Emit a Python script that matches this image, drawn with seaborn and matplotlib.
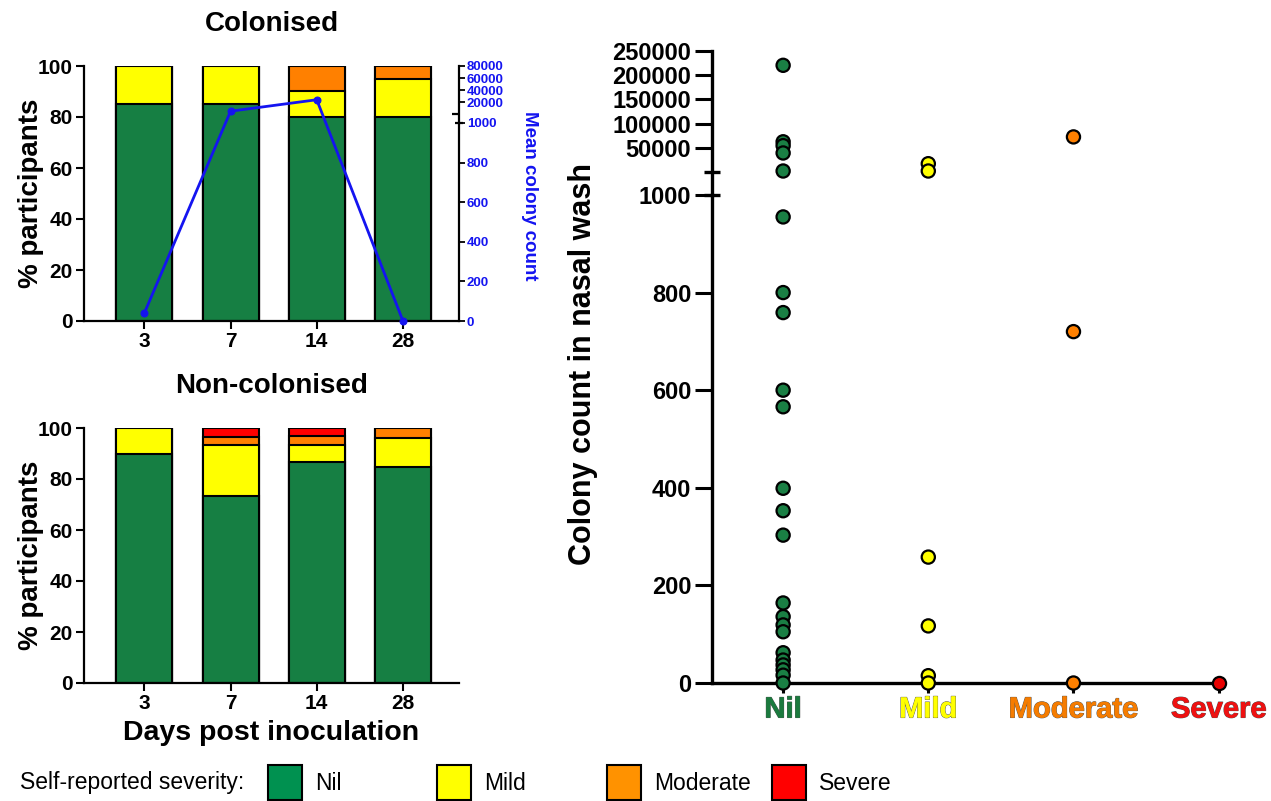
import numpy as np
import pandas as pd
import matplotlib
matplotlib.use("Agg")
import matplotlib.pyplot as plt
from matplotlib.spines import Spine
from matplotlib.patches import Rectangle
import matplotlib.patheffects as pe
import seaborn as sns

# ---------------- data ----------------
days = ["3", "7", "14", "28"]
severity = ["Nil", "Mild", "Moderate", "Severe"]

col_nil = [85, 85, 80, 80]
col_mild = [15, 15, 10, 15]
col_moderate = [0, 0, 10, 5]
col_severe = [0, 0, 0, 0]

non_nil = [90, 73.3, 86.7, 84.6]
non_mild = [10, 20.0, 6.7, 11.5]
non_moderate = [0, 3.3, 3.3, 3.9]
non_severe = [0, 3.4, 3.3, 0]

mean_colony = [40, 5000, 24000, 0]

nil_counts = [220000, 63000, 55000, 40000, 3000, 955, 800, 759, 600, 566, 399,
              353, 303, 164, 136, 119, 105, 62, 47, 37, 27, 16, 0]
mild_counts = [18000, 3000, 258, 117, 15, 0]
moderate_counts = [73000, 720, 0]
severe_counts = [0]

left_ticks = [0, 20, 40, 60, 80, 100]
blue_ticks = [0, 200, 400, 600, 800, 1000, 20000, 40000, 60000, 80000]
right_ticks = [0, 200, 400, 600, 800, 1000, 50000, 100000, 150000, 200000, 250000]

# ---------------- style ----------------
bar_colors = {"Nil": "#167F43", "Mild": "#FFFF00", "Moderate": "#FF8000", "Severe": "#FF0000"}
dot_colors = {"Nil": "#1A7F44", "Mild": "#FFFF00", "Moderate": "#FF8000", "Severe": "#E80000"}
label_colors = {"Nil": "#1B7A3E", "Mild": "#FFFF00", "Moderate": "#F57C00", "Severe": "#EE1111"}
legend_colors = {"Nil": "#009150", "Mild": "#FFFF00", "Moderate": "#FF9200", "Severe": "#FF0000"}
BLUE = "#1414F0"

sns.set_theme(style="ticks", rc={"axes.edgecolor": "black", "xtick.color": "black",
                                 "ytick.color": "black", "text.color": "black",
                                 "axes.labelcolor": "black"})
plt.rcParams["font.family"] = ["Liberation Sans", "DejaVu Sans"]
plt.rcParams["font.weight"] = "bold"

W, H = 1271, 801
fig = plt.figure(figsize=(W / 100, H / 100), dpi=100)


def px_axes(x0, y0, x1, y1):
    return fig.add_axes([x0 / W, 1 - y1 / H, (x1 - x0) / W, (y1 - y0) / H])


ax_top = px_axes(84, 66, 459, 321)
ax_bot = px_axes(84, 428, 459, 683)
ax_r = px_axes(712, 50.7, 1223, 683)


def stacked(ax, layers):
    cum = np.cumsum(np.array(layers, dtype=float), axis=0)
    for i in reversed(range(len(severity))):
        sns.barplot(x=days, y=cum[i], order=days, color=bar_colors[severity[i]],
                    saturation=1, width=0.65, edgecolor="black", linewidth=1.5,
                    errorbar=None, ax=ax)


def style_left(ax, title, ylabel_y=0.5):
    ax.set_ylim(0, 100)
    ax.set_yticks(left_ticks)
    ax.set_yticklabels([str(t) for t in left_ticks])
    ax.set_xlim(-0.70, 3.65)
    ax.tick_params(axis="both", length=6, width=1.5, labelsize=15, pad=2)
    for s in ["top", "right"]:
        ax.spines[s].set_visible(False)
    for s in ["left", "bottom"]:
        ax.spines[s].set_linewidth(1.6)
    ax.set_xlabel("")
    ax.set_ylabel("% participants", fontsize=20, fontweight="bold")
    ax.yaxis.label.set(ha="center", va="center")
    ax.yaxis.set_label_coords(-0.14, ylabel_y)
    ax.set_title(title, fontsize=20, fontweight="bold", pad=25)
    for lbl in ax.get_xticklabels() + ax.get_yticklabels():
        lbl.set_fontweight("bold")


# ---------------- top-left: Colonised ----------------
stacked(ax_top, [col_nil, col_mild, col_moderate, col_severe])
style_left(ax_top, "Colonised")

ax2 = ax_top.twinx()


def fwd_b(v):
    v = np.asarray(v, dtype=float)
    return np.where(v <= 1000, v * 0.198, 207.4 + (v - 1000) * 0.0006025)


def inv_b(y):
    y = np.asarray(y, dtype=float)
    return np.where(y <= 198, y / 0.198,
                    np.where(y < 207.4, 1000.0, 1000 + (y - 207.4) / 0.0006025))


ax2.set_yscale("function", functions=(fwd_b, inv_b))
sns.lineplot(x=np.arange(len(days)), y=mean_colony, ax=ax2, color=BLUE, linewidth=2,
             marker="o", markersize=5, markeredgecolor=BLUE, errorbar=None)
for ln in ax2.lines:
    ln.set_clip_on(False)
ax2.set_ylim(0, 80000)
ax2.set_xlim(-0.70, 3.65)
ax2.set_yticks(blue_ticks)
ax2.set_yticklabels([str(t) for t in blue_ticks])
ax2.tick_params(axis="y", labelcolor=BLUE, color="black", length=4, width=1.3,
                labelsize=9.5, pad=1.5)
for lbl in ax2.get_yticklabels():
    lbl.set_fontweight("bold")
for s in ["top", "left", "bottom"]:
    ax2.spines[s].set_visible(False)
ax2.spines["right"].set_linewidth(1.6)
ax2.spines["right"].set_bounds(0, 1000)
up_b = Spine.linear_spine(ax2, "right")
up_b.set_position(("outward", 0))
up_b.set_bounds(1000, 80000)
up_b.set_linewidth(1.6)
up_b.set_edgecolor("black")
ax2.spines["right_upper"] = up_b
ax2.plot([1], [1000], marker="_", ms=6, mew=1.6, color="black",
         transform=ax2.get_yaxis_transform(), clip_on=False)
ax2.plot([0.993], [1000 + 1], marker="_", ms=6, mew=1.6, color="black",
         transform=ax2.get_yaxis_transform(), clip_on=False)
ax2.set_ylabel("Mean colony count", color=BLUE, fontsize=13.5, fontweight="bold",
               rotation=270)
ax2.yaxis.label.set(ha="center", va="center")
ax2.yaxis.set_label_coords(1.187, 0.49)

# ---------------- bottom-left: Non-colonised ----------------
stacked(ax_bot, [non_nil, non_mild, non_moderate, non_severe])
style_left(ax_bot, "Non-colonised")
ax_bot.set_xlabel("Days post inoculation", fontsize=20.5, fontweight="bold")
ax_bot.xaxis.label.set(ha="center", va="center")
ax_bot.xaxis.set_label_coords(0.5, -0.196)

# ---------------- right: colony counts ----------------
df = pd.DataFrame({
    "severity": (["Nil"] * len(nil_counts) + ["Mild"] * len(mild_counts)
                 + ["Moderate"] * len(moderate_counts) + ["Severe"] * len(severe_counts)),
    "count": nil_counts + mild_counts + moderate_counts + severe_counts,
})
sns.stripplot(data=df, x="severity", y="count", hue="severity", order=severity,
              hue_order=severity, palette=dot_colors, jitter=False, size=9.5,
              linewidth=1.6, edgecolor="black", legend=False, ax=ax_r, zorder=3)
for c in ax_r.collections:
    c.set_clip_on(False)


def fwd_r(v):
    v = np.asarray(v, dtype=float)
    return np.where(v <= 1000, v * 0.488, 511 + (v - 1000) * 0.000487)


def inv_r(y):
    y = np.asarray(y, dtype=float)
    return np.where(y <= 488, y / 0.488,
                    np.where(y < 511, 1000.0, 1000 + (y - 511) / 0.000487))


ax_r.set_yscale("function", functions=(fwd_r, inv_r))
ax_r.set_ylim(0, 250000)
ax_r.set_xlim(-0.49, 3.03)
ax_r.set_yticks(right_ticks)
ax_r.set_yticklabels([str(t) for t in right_ticks])
ax_r.set_xticks(range(len(severity)))
ax_r.set_xticklabels(severity)
ax_r.tick_params(axis="y", length=12, width=2.2, labelsize=17, pad=3)
ax_r.tick_params(axis="x", length=7, width=2.2, labelsize=21, pad=2)
for lbl in ax_r.get_yticklabels():
    lbl.set_fontweight("bold")
for lbl, name in zip(ax_r.get_xticklabels(), severity):
    lbl.set_fontweight("bold")
    lbl.set_color(label_colors[name])
    lbl.set_path_effects([pe.withStroke(linewidth=0.8, foreground="#555555"), pe.Normal()])
for s in ["top", "right"]:
    ax_r.spines[s].set_visible(False)
ax_r.spines["left"].set_linewidth(2.4)
ax_r.spines["bottom"].set_linewidth(2.4)
ax_r.spines["left"].set_bounds(0, 1000)
up_r = Spine.linear_spine(ax_r, "left")
up_r.set_position(("outward", 0))
up_r.set_bounds(1000, 250000)
up_r.set_linewidth(2.4)
up_r.set_edgecolor("black")
ax_r.spines["left_upper"] = up_r
ax_r.plot([0], [1000], marker="_", ms=11, mew=2.4, color="black",
          transform=ax_r.get_yaxis_transform(), clip_on=False)
ax_r.plot([0], [1000.5], marker="_", ms=11, mew=2.4, color="black",
          transform=ax_r.get_yaxis_transform(), clip_on=False)
ax_r.set_xlabel("")
ax_r.set_ylabel("Colony count in nasal wash", fontsize=22, fontweight="bold")
ax_r.yaxis.label.set(ha="center", va="center")
ax_r.yaxis.set_label_coords(-0.2524, 0.505)

# ---------------- legend ----------------
fig.text(20 / W, 1 - 783 / H, "Self-reported severity:", fontsize=16.5,
         fontweight="normal", ha="left", va="center")
patch_x = [268, 437, 607, 772]
for name, x0 in zip(severity, patch_x):
    fig.patches.append(Rectangle((x0 / W, 1 - 800 / H), 34 / W, 35 / H,
                                 transform=fig.transFigure, facecolor=legend_colors[name],
                                 edgecolor="black", linewidth=1.5))
    fig.text((x0 + 47) / W, 1 - 783 / H, name, fontsize=16.5, fontweight="normal",
             ha="left", va="center")

fig.savefig("out.png", dpi=100)
